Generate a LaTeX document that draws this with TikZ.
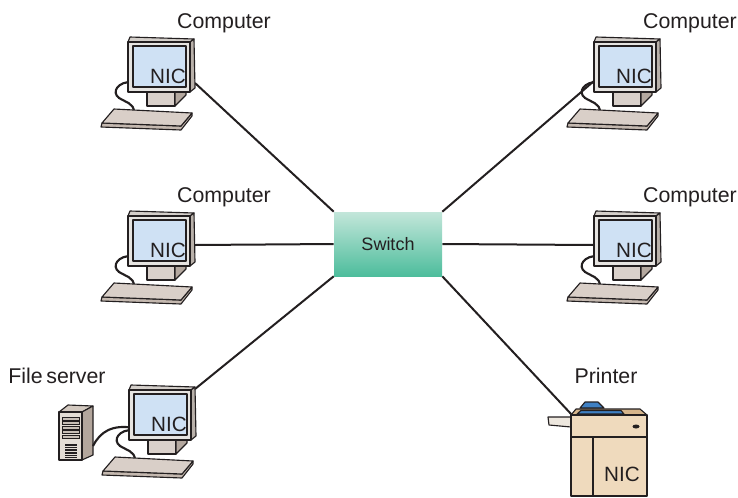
\documentclass[tikz,border=0pt]{standalone}
\usepackage{fontspec}
\setmainfont{Liberation Sans}
\pgfdeclarelayer{bg}
\pgfsetlayers{bg,main}
\definecolor{ink}{HTML}{231F20}
\definecolor{bezel}{HTML}{E6E4E1}
\definecolor{bezeltop}{HTML}{D4CFCA}
\definecolor{bezelside}{HTML}{B9B1AA}
\definecolor{screen}{HTML}{CFE1F4}
\definecolor{stand}{HTML}{D9D0CA}
\definecolor{standside}{HTML}{B4A89F}
\definecolor{keys}{HTML}{D9CFC8}
\definecolor{keysedge}{HTML}{C4B8AF}
\definecolor{swtop}{HTML}{C3E6DA}
\definecolor{swbot}{HTML}{4DBD9C}
\definecolor{tan}{HTML}{EFDABD}
\definecolor{tantop}{HTML}{D6B58B}
\definecolor{lidblue}{HTML}{3F80C3}
\definecolor{tray}{HTML}{EDE7DE}
\definecolor{towerfront}{HTML}{E4DDD5}
\definecolor{towertop}{HTML}{D3C9C0}
\definecolor{towerside}{HTML}{B3A69C}
\definecolor{slot}{HTML}{C8BFB7}

\tikzset{
  part/.style={draw=ink, line width=0.85pt, line join=round},
  cable/.style={draw=ink, line width=1.6pt},
  link/.style={draw=ink, line width=1.5pt},
  tag/.style={font=\fontsize{16}{18}\selectfont, text=ink, inner sep=0pt, anchor=base},
  nic/.style={font=\fontsize{15.5}{18}\selectfont, text=ink, inner sep=0pt, anchor=base east},
  switchbox/.style={minimum width=81pt, minimum height=48pt, inner sep=0pt,
    top color=swtop, bottom color=swbot, draw=none,
    font=\fontsize{13.5}{16}\selectfont, text=ink},
  computer/.pic={
    % keyboard cable, partly hidden by the monitor
    \draw[cable] (5,40) .. controls (-10,39) and (-17,50) .. (-9,56)
                 .. controls (-3,60) and (6,61) .. (6,70);
    % stand
    \filldraw[part, fill=stand] (19,50) rectangle (47,64);
    \filldraw[part, fill=standside] (47,50) -- (58,50) -- (58,53) -- (47,64) -- cycle;
    % monitor body
    \filldraw[part, fill=bezeltop] (0,0) -- (2,-5) -- (66,-3) -- (62,0) -- cycle;
    \filldraw[part, fill=bezelside] (62,0) -- (66,-3) -- (67,46) -- (62,50) -- cycle;
    \filldraw[part, fill=bezel] (0,0) rectangle (62,50);
    \filldraw[part, fill=screen] (5,4) rectangle (58,45);
    \node[nic] (-nic) at (58,41) {NIC};
    % keyboard
    \filldraw[part, fill=keysedge] (-26,81) -- (53,84) -- (64,71) -- (64,74)
                 -- (53,88) -- (-27,85) -- cycle;
    \filldraw[part, fill=keys] (-14,67) -- (64,71) -- (53,84) -- (-26,81) -- cycle;
  }
}

\begin{document}
\begin{tikzpicture}[x=0.75pt, y=-0.75pt]
\useasboundingbox (0,0) rectangle (738,497);

% switch
\node[switchbox] (sw) at (388,244) {Switch};

% file server tower
\filldraw[part, fill=towertop] (59,412) -- (68,405) -- (93,406) -- (82,412) -- cycle;
\filldraw[part, fill=towerside] (82,412) -- (93,406) -- (93,455) -- (82,460) -- cycle;
\filldraw[part, fill=towerfront] (59,412) rectangle (82,460);
\foreach \y in {417,421.5,426,430.5,435}
  \filldraw[draw=ink, line width=0.5pt, fill=slot] (62,\y) rectangle (79,\y+3.2);
\foreach \y in {444,445.6,...,457}
  \draw[ink, line width=0.45pt] (65,\y) -- (77,\y);
\draw[cable] (93,446) .. controls (100,432) and (112,424) .. (134,428);

% computers
\pic (c1) at (128,42) {computer};
\pic (c2) at (128,216) {computer};
\pic (c3) at (129,390) {computer};
\pic (c4) at (594,42) {computer};
\pic (c5) at (594,216) {computer};

% printer
\filldraw[part, fill=tray] (548,417) -- (571,417) -- (571,427) -- (549,425) -- cycle;
\filldraw[part, fill=lidblue] (580,408) -- (585,402) -- (598,402) -- (604,408) -- cycle;
\filldraw[part, fill=tantop] (571,415) -- (576,409) -- (640,409) -- (647,415) -- cycle;
\filldraw[part, fill=lidblue] (577,414) -- (581,410.5) -- (621,410.5) -- (624,414) -- cycle;
\filldraw[part, fill=tan] (571,415) rectangle (647,437);
\filldraw[part, fill=tan] (571,437) rectangle (647,496);
\draw[ink, line width=1.6pt] (571,437) -- (647,437);
\draw[part] (593,437) -- (593,496);
\fill[ink] (636,426.5) ellipse [x radius=3.5, y radius=2];
\fill[ink] (575,495) rectangle (585,497);
\fill[ink] (637,495) rectangle (646,497);
\node[nic] (pr-nic) at (640,481) {NIC};

% connection points
\coordinate (p1) at (195,83);
\coordinate (p2) at (195,245);
\coordinate (p3) at (195,389);
\coordinate (p4) at (594,81);
\coordinate (p5) at (594,245);
\coordinate (p6) at (572,415);

% links to the switch
\begin{pgfonlayer}{bg}
  \draw[link] (sw.north west) -- (p1);
  \draw[link] (sw.west) -- (p2);
  \draw[link] (sw.south west) -- (p3);
  \draw[link] (sw.north east) -- (p4);
  \draw[link] (sw.east) -- (p5);
  \draw[link] (sw.south east) -- (p6);
\end{pgfonlayer}

% labels
\node[tag] (l1) at (224,28) {Computer};
\node[tag] (l4) at (690,28) {Computer};
\node[tag] (l2) at (224,202) {Computer};
\node[tag] (l5) at (690,202) {Computer};
\node[tag] (l3) at (57,383) {File\hspace{0.17em}server};
\node[tag] (l6) at (606,383) {Printer};
\end{tikzpicture}
\end{document}
